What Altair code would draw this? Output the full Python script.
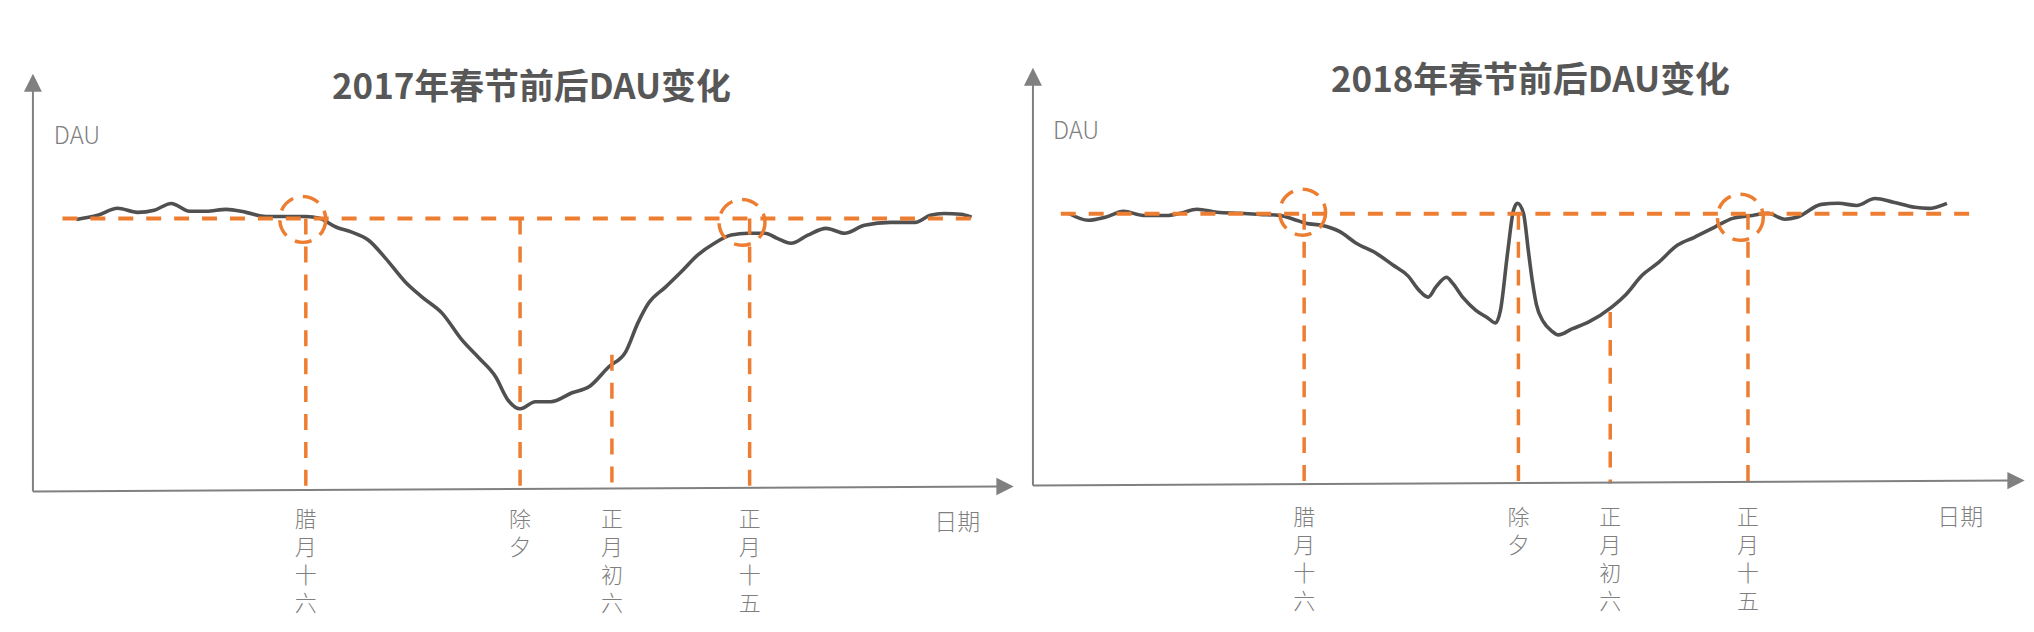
import altair as alt
import pandas as pd

# ---------------- text ----------------
title17 = "2017年春节前后DAU变化"
title18 = "2018年春节前后DAU变化"
y_label = "DAU"
x_label = "日期"

# ---------------- key dates (days relative to 除夕) ----------------
event_names = ["腊月十六", "除夕", "正月初六", "正月十五"]
event_days = [-14, 0, 6, 15]
event_top17 = [100, 100, 49.7, 100]
event_top18 = [100, 100, 63.6, 100]

normal_level = 100
baseline_days = [-29.9, 29.6]

circle_days17 = [-14.2, 14.5]
circle_dau17 = [99.7, 98.6]
circle_days18 = [-14.1, 14.5]
circle_dau18 = [100.6, 98.7]

# ---------------- DAU curves (index, normal level = 100) ----------------
days17 = [-29.0, -27.6, -26.3, -25.0, -23.9, -22.8, -21.6, -20.5, -19.2, -17.9,
          -16.6, -15.3, -14.0, -13.1, -12.0, -11.0, -9.9, -8.8, -7.5, -6.4,
          -5.1, -3.8, -2.7, -1.6, -0.8, 0.0, 1.0, 2.0, 3.4, 4.5,
          5.8, 6.9, 7.7, 8.4, 9.5, 10.5, 11.6, 12.7, 13.8, 14.9,
          16.0, 16.8, 17.7, 18.8, 20.0, 21.2, 22.5, 24.2, 25.8, 26.8,
          27.7, 28.8, 29.5]
dau17 = [99.7, 101.2, 103.8, 102.3, 103.1, 105.6, 102.7, 102.7, 103.4, 102.3,
         100.8, 100.8, 100.8, 100.1, 96.8, 95.0, 92.0, 85.4, 76.6, 71.0,
         65.1, 55.2, 48.6, 41.6, 33.1, 29.8, 32.4, 32.4, 35.7, 37.9,
         45.3, 50.8, 61.5, 68.8, 74.7, 80.2, 86.5, 90.9, 93.9, 94.6,
         94.6, 92.7, 90.9, 93.9, 96.4, 94.6, 97.5, 98.6, 98.6, 101.2,
         101.9, 101.6, 100.5]

days18 = [-29.4, -28.1, -27.0, -25.8, -24.5, -23.0, -22.1, -21.0, -19.7, -18.2,
          -16.9, -15.6, -14.7, -13.9, -12.8, -11.7, -10.6, -9.3, -8.2, -7.2,
          -6.5, -5.9, -5.4, -4.7, -4.3, -3.6, -2.8, -2.0, -1.5, -1.17,
          -0.71, -0.32, -0.06, 0.33, 0.66, 0.92, 1.18, 1.64, 2.16, 2.61,
          3.5, 4.6, 6.1, 7.0, 8.1, 9.1, 10.4, 11.5, 12.8, 14.0,
          15.3, 16.3, 17.4, 18.2, 19.8, 20.9, 22.1, 23.3, 24.5, 25.9,
          26.8, 28.0]
dau18 = [100.2, 97.6, 98.7, 100.9, 99.4, 99.4, 100.2, 101.7, 100.6, 100.2,
         99.8, 99.4, 98.0, 96.5, 95.7, 93.5, 89.1, 85.4, 81.0, 76.9,
         71.7, 69.1, 72.8, 76.5, 74.3, 68.8, 64.3, 61.4, 59.5, 64.3,
         85.4, 101.3, 103.9, 100.2, 85.8, 74.7, 66.2, 59.9, 56.6, 55.1,
         57.3, 59.9, 65.4, 69.9, 77.3, 81.7, 88.4, 91.3, 95.0, 98.3,
         99.4, 100.2, 98.0, 98.7, 103.5, 103.9, 103.1, 105.7, 104.3, 102.4,
         102.0, 103.9]

# ---------------- styles ----------------
ORANGE = "#ED7D31"
LINE = "#505050"
AXIS = "#808080"
TEXT = "#7f7f7f"
TITLE = "#575757"
FONT = "Noto Sans CJK SC"
UP = "M0,-1L1,1L-1,1Z"
RIGHT = "M-1,-1L1,0L-1,1Z"


def panel(days, dau, tops, cdays, cdau, title, xr, yr, d):
    xs = alt.Scale(domain=[-30, 30], range=xr, nice=False, zero=False)
    ys = alt.Scale(domain=[0, 100], range=yr, nice=False, zero=False)
    curve = pd.DataFrame({"day": days, "dau": dau})
    ev = pd.DataFrame({"day": event_days, "top": tops,
                       "label": ["\n".join(n) for n in event_names]})
    base = pd.DataFrame({"start": [baseline_days[0]], "end": [baseline_days[1]],
                         "level": [normal_level]})
    circ = pd.DataFrame({"day": cdays, "dau": cdau})
    one = pd.DataFrame({"k": [0]})

    line = alt.Chart(curve).mark_line(
        interpolate="monotone", color=LINE, strokeWidth=3.6
    ).encode(x=alt.X("day:Q", scale=xs, axis=None),
             y=alt.Y("dau:Q", scale=ys, axis=None))

    hrule = alt.Chart(base).mark_rule(
        color=ORANGE, strokeWidth=4, strokeDash=[15, 13]
    ).encode(x=alt.X("start:Q", scale=xs, axis=None), x2="end:Q",
             y=alt.Y("level:Q", scale=ys, axis=None))

    vrule = alt.Chart(ev).mark_rule(
        color=ORANGE, strokeWidth=3.5, strokeDash=[16, 12]
    ).encode(x=alt.X("day:Q", scale=xs, axis=None),
             y=alt.Y("top:Q", scale=ys, axis=None), y2=alt.datum(0))

    circles = alt.Chart(circ).mark_point(
        shape="circle", filled=False, size=2124, color=ORANGE,
        strokeWidth=3.5, strokeDash=[17, 10], opacity=1
    ).encode(x=alt.X("day:Q", scale=xs, axis=None),
             y=alt.Y("dau:Q", scale=ys, axis=None))

    labels = alt.Chart(ev).mark_text(
        font=FONT, fontSize=22, fontWeight=300, color=TEXT, align="center",
        baseline="top", lineBreak="\n", lineHeight=28
    ).encode(x=alt.X("day:Q", scale=xs, axis=None), y=alt.value(d["lab_y"]),
             text="label:N")

    yaxis = alt.Chart(one).mark_rule(color=AXIS, strokeWidth=2).encode(
        x=alt.value(d["ox"]), y=alt.value(d["oy"]),
        x2=alt.value(d["ox"]), y2=alt.value(d["ytop"] + 6))
    xaxis = alt.Chart(one).mark_rule(color=AXIS, strokeWidth=2).encode(
        x=alt.value(d["ox"]), y=alt.value(d["oy"]),
        x2=alt.value(d["xend"] - 6), y2=alt.value(d["xend_y"]))
    yarrow = alt.Chart(one).mark_point(
        shape=UP, filled=True, size=324, color=AXIS, opacity=1
    ).encode(x=alt.value(d["ox"]), y=alt.value(d["ytop"]))
    xarrow = alt.Chart(one).mark_point(
        shape=RIGHT, filled=True, size=300, color=AXIS, opacity=1
    ).encode(x=alt.value(d["xend"]), y=alt.value(d["xend_y"]))

    ttl = alt.Chart(one).mark_text(
        font=FONT, fontSize=35, fontWeight="bold", color=TITLE,
        align="center", baseline="middle"
    ).encode(x=alt.value(d["tx"]), y=alt.value(d["ty"]), text=alt.value(title))
    ylab = alt.Chart(one).mark_text(
        font=FONT, fontSize=24, fontWeight=300, color=TEXT, align="left",
        baseline="alphabetic"
    ).encode(x=alt.value(d["dx"]), y=alt.value(d["dy"]), text=alt.value(y_label))
    xlab = alt.Chart(one).mark_text(
        font=FONT, fontSize=23, fontWeight=300, color=TEXT, align="center",
        baseline="middle"
    ).encode(x=alt.value(d["rx"]), y=alt.value(d["ry"]), text=alt.value(x_label))

    return alt.layer(line, hrule, vrule, circles, labels,
                     yaxis, xaxis, yarrow, xarrow, ttl, ylab, xlab)


deco17 = dict(ox=25, oy=484, ytop=74, xend=1000, xend_y=479, tx=525, ty=79,
              dx=46, dy=135, rx=952, ry=516, lab_y=503)
deco18 = dict(ox=1028, oy=478, ytop=68, xend=2014, xend_y=473, tx=1527, ty=72,
              dx=1048, dy=130, rx=1958, ry=511, lab_y=501)

p17 = panel(days17, dau17, event_top17, circle_days17, circle_dau17, title17,
            [53.1, 974.1], [482, 210.3], deco17)
p18 = panel(days18, dau18, event_top18, circle_days18, circle_dau18, title18,
            [1054.4, 1975.4], [476, 205.5], deco18)

chart = alt.layer(p17, p18).resolve_scale(
    x="independent", y="independent"
).properties(
    width=2024, height=616, padding=0,
    autosize=alt.AutoSizeParams(type="none")
).configure_view(stroke=None)

chart.save("out.html", embed_options={"renderer": "svg", "actions": False})
